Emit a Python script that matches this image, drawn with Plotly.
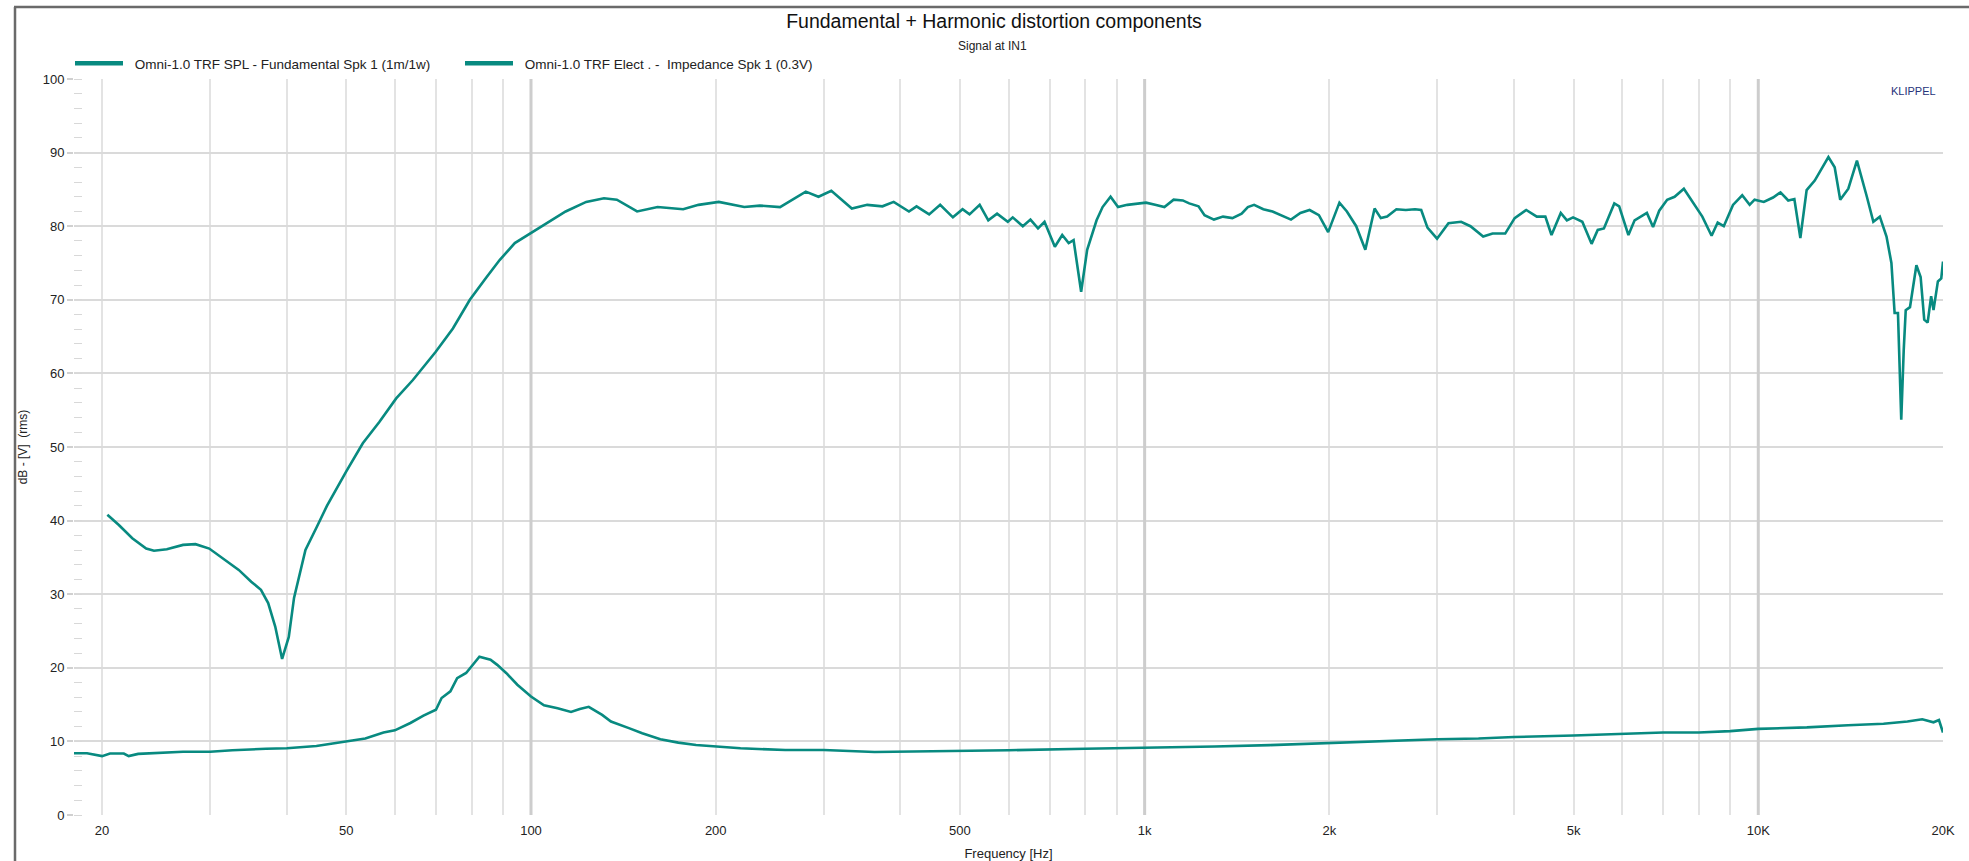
import math
import plotly.graph_objects as go

# ---------------- data ----------------
spl_freq = [20.4, 21.3, 22.4, 23.6, 24.3, 25.5, 27.1, 28.4, 29.9, 31.8, 33.4, 35.0, 36.3, 37.3, 38.3,
            39.3, 40.3, 41.1, 41.8, 42.9, 44.8, 46.5, 50.0, 53.2, 56.6, 60.3, 64.2, 69.9, 74.6, 79.5,
            84.5, 88.9, 94.1, 99.7, 105.5, 113.9, 123.0, 131.5, 138.0, 148.9, 160.8, 177.0, 187.5,
            202.3, 222.6, 236.0, 254.6, 280.4, 294.1, 308.6, 333.3, 353.1, 373.9, 390.0, 413.0, 424.9,
            445.5, 464.3, 487.0, 505.0, 518.4, 538.5, 556.2, 574.8, 598.5, 609.6, 633.1, 651.5, 670.3,
            686.8, 714, 734, 752, 766, 788, 806, 835, 854, 880, 905, 937, 970, 1005, 1040, 1077, 1115,
            1154, 1182, 1224, 1252, 1297, 1342, 1390, 1439, 1473, 1508, 1561, 1616, 1673, 1732, 1794,
            1857, 1923, 1991, 2077, 2136, 2212, 2289, 2370, 2426, 2484, 2572, 2664, 2758, 2823, 2890,
            2996, 3127, 3279, 3396, 3562, 3690, 3869, 4009, 4186, 4356, 4498, 4603, 4766, 4877, 4991,
            5167, 5350, 5475, 5603, 5826, 5934, 6143, 6287, 6434, 6584, 6738, 6896, 7104, 7305, 7564,
            7831, 8106, 8393, 8587, 8786, 9095, 9415, 9682, 9862, 10210, 10570, 10870, 11190, 11450,
            11710, 11990, 12360, 12710, 13010, 13320, 13600, 14020, 14480, 15030, 15400, 15780, 16180,
            16480, 16680, 16890, 17100, 17260, 17390, 17670, 18100, 18390, 18640, 18880, 19130, 19300,
            19620, 19870, 20000]
spl_db = [40.8, 39.4, 37.6, 36.2, 35.9, 36.1, 36.7, 36.8, 36.2, 34.6, 33.3, 31.7, 30.6, 28.8, 25.6,
          21.2, 24.2, 29.5, 32.0, 36.0, 39.2, 42.0, 46.7, 50.5, 53.4, 56.6, 59.1, 62.9, 66.1, 70.0,
          73.0, 75.4, 77.7, 79.0, 80.2, 82.0, 83.3, 83.8, 83.6, 82.0, 82.6, 82.3, 82.9,
          83.3, 82.6, 82.8, 82.6, 84.7, 84.0, 84.8, 82.4, 82.9, 82.7, 83.3, 82.0, 82.7,
          81.6, 82.9, 81.2, 82.3, 81.6, 82.9, 80.8, 81.7, 80.6, 81.2, 80.0, 80.9, 79.7,
          80.6, 77.2, 78.8, 77.7, 78.1, 71.1, 76.8, 80.8, 82.6, 84.0, 82.6, 82.9, 83.0, 83.2, 82.9, 82.6, 83.6,
          83.5, 83.1, 82.7, 81.5, 80.9, 81.3, 81.1, 81.7, 82.6, 82.9, 82.3, 82.0, 81.5, 80.9, 81.8,
          82.2, 81.5, 79.2, 83.2, 82.0, 80.0, 76.8, 82.4, 81.1, 81.3, 82.3, 82.2, 82.3, 82.2, 79.8,
          78.3, 80.4, 80.6, 80.0, 78.6, 79.0, 79.0, 81.1, 82.2, 81.3, 81.3, 78.8, 81.8, 80.8, 81.2,
          80.6, 77.6, 79.5, 79.7, 83.1, 82.7, 78.8, 80.8, 81.3, 81.8, 79.9, 82.1, 83.6, 84.0, 85.1,
          83.1, 81.3, 78.7, 80.5, 80.0, 82.9, 84.2, 82.9, 83.6, 83.3, 83.9, 84.6, 83.5, 83.7,
          78.4, 84.9, 86.2, 88.0, 89.4, 88.0, 83.6, 85.1, 88.9, 84.0, 80.6, 81.3, 78.6,
          75.0, 68.2, 68.2, 53.7, 63.2, 68.6, 69.0, 74.7, 73.1, 67.3, 66.9, 70.5, 68.6,
          72.5, 72.9, 75.2]

imp_freq = [18.0, 18.9, 20.0, 20.6, 21.7, 22.1, 22.9, 24.4, 27.1, 30.0, 32.6, 37.0, 40.0, 44.7, 50.0,
            53.7, 57.5, 60.0, 63.6, 66.8, 70.0, 71.5, 73.9, 75.8, 78.4, 80.0, 82.4, 85.9, 88.1, 91.1,
            95.0, 100, 105, 110.5, 116.2, 120.1, 124.2, 130.6, 135, 144.4, 151.8, 162.5, 173.8, 185.8,
            200, 219.5, 259.6, 300, 363, 400, 482, 600, 800, 1000, 1300, 1600, 2000, 2500, 3000, 3500,
            4000, 5000, 6000, 7000, 8000, 9000, 10000, 12000, 14000, 16000, 17500, 18500, 19300,
            19700, 20000]
imp_db = [8.4, 8.4, 8.0, 8.35, 8.35, 8.0, 8.3, 8.4, 8.6, 8.6, 8.8, 9.0, 9.06, 9.38, 9.96,
          10.4, 11.2, 11.5, 12.5, 13.5, 14.3, 15.9, 16.8, 18.6, 19.3, 20.2, 21.5, 21.1, 20.4, 19.3,
          17.7, 16.1, 14.9, 14.5, 14.0, 14.4, 14.7, 13.6, 12.7, 11.8, 11.1, 10.3, 9.83, 9.51,
          9.28, 9.06, 8.83, 8.83, 8.55, 8.6, 8.6, 8.8, 9.0, 9.1, 9.3, 9.5, 9.8, 10.1, 10.3, 10.4,
          10.6, 10.8, 11.0, 11.2, 11.2, 11.4, 11.7, 11.9, 12.2, 12.4, 12.7, 13.0, 12.6,
          12.9, 11.2]

series_names = ["Omni-1.0 TRF SPL - Fundamental Spk 1 (1m/1w)",
                "Omni-1.0 TRF Elect . -\u00a0 Impedance Spk 1 (0.3V)"]

x_label_vals = [20, 50, 100, 200, 500, 1000, 2000, 5000, 10000, 20000]
x_label_text = ["20", "50", "100", "200", "500", "1k", "2k", "5k", "10K", "20K"]
grid_freqs = [m * d for d in (10, 100, 1000, 10000) for m in range(1, 10)
              if 18 <= m * d <= 20000] + [20000]
decade_freqs = [100, 1000, 10000]
y_tick_vals = list(range(0, 101, 10))
x_min, x_max = 18, 20000

# ---------------- style ----------------
TEAL = "#088a80"
FONT = "Liberation Sans, Arial, sans-serif"
W, H = 1969, 861
ML, MR, MT, MB = 74, 26, 79, 46
ITEM_W = 48

fig = go.Figure()

# decade grid lines (thicker)
for d in decade_freqs:
    fig.add_trace(go.Scatter(x=[d, d], y=[0, 100], mode="lines",
                             line=dict(color="#cdcdcd", width=3),
                             hoverinfo="skip", showlegend=False))

fig.add_trace(go.Scatter(x=spl_freq, y=spl_db, mode="lines",
                         line=dict(color=TEAL, width=2.6), showlegend=False,
                         name=series_names[0]))
fig.add_trace(go.Scatter(x=imp_freq, y=imp_db, mode="lines",
                         line=dict(color=TEAL, width=2.6), showlegend=False,
                         name=series_names[1]))
# legend entries
for nm in series_names:
    fig.add_trace(go.Scatter(x=[None], y=[None], mode="lines",
                             line=dict(color=TEAL, width=4.5),
                             name="\u2002" + nm, showlegend=True))


def px_to_paper_x(px):
    return (px - ML) / (W - ML - MR)


def px_to_paper_y(py):
    return (H - MB - py) / (H - MT - MB)


fig.update_layout(
    width=W, height=H,
    margin=dict(l=ML, r=MR, t=MT, b=MB, pad=0, autoexpand=False),
    paper_bgcolor="white", plot_bgcolor="white",
    font=dict(family=FONT, size=13, color="#222"),
    title=dict(text="Fundamental + Harmonic distortion components",
               x=994 / W, xanchor="center", xref="container",
               y=1 - 21 / H, yanchor="middle", yref="container",
               font=dict(size=19.5, color="#111", family=FONT)),
    showlegend=True,
    legend=dict(orientation="h", x=px_to_paper_x(70), xanchor="left",
                y=1.0, yanchor="bottom", bgcolor="rgba(0,0,0,0)",
                font=dict(size=13.5, color="#222", family=FONT),
                entrywidth=390 - ITEM_W - 15, entrywidthmode="pixels", itemwidth=ITEM_W,
                tracegroupgap=0),
    xaxis=dict(type="log", range=[math.log10(x_min), math.log10(x_max)],
               automargin=False,
               tickmode="array", tickvals=grid_freqs,
               ticktext=[x_label_text[x_label_vals.index(g)] if g in x_label_vals else ""
                         for g in grid_freqs],
               showgrid=True, gridcolor="#e3e3e3", gridwidth=1.5,
               ticks="", ticklabelstandoff=6, zeroline=False, showline=False,
               tickfont=dict(size=13, color="#222"),
               title=dict(text="Frequency [Hz]", standoff=15,
                          font=dict(size=13, color="#222"))),
    yaxis=dict(range=[0, 100], tickmode="array", tickvals=y_tick_vals,
               automargin=False,
               showgrid=True, gridcolor="#dadada", gridwidth=1.6,
               ticks="outside", ticklen=6, tickcolor="#d0d0d0", tickwidth=1.5,
               minor=dict(dtick=2, ticks="inside", ticklen=8, tickcolor="#d8d8d8",
                          tickwidth=1.2, showgrid=False),
               zeroline=False, showline=False,
               tickfont=dict(size=13, color="#222"),
               title=dict(text="dB - [V]\u00a0 (rms)", standoff=12,
                          font=dict(size=12, color="#222"))),
    annotations=[
        dict(text="Signal at IN1", xref="paper", yref="paper",
             x=px_to_paper_x(992), y=px_to_paper_y(46),
             xanchor="center", yanchor="middle", showarrow=False,
             font=dict(size=12, color="#222", family=FONT)),
        dict(text="KLIPPEL", xref="paper", yref="paper", x=1, y=1,
             xanchor="right", yanchor="top", xshift=-5, yshift=-4,
             showarrow=False, font=dict(size=11, color="#27337a", family=FONT)),
    ],
    shapes=[
        dict(type="line", xref="paper", yref="paper",
             x0=px_to_paper_x(15), x1=px_to_paper_x(15),
             y0=px_to_paper_y(7), y1=px_to_paper_y(H + 10),
             line=dict(color="#6a6a6a", width=2.5)),
        dict(type="line", xref="paper", yref="paper",
             x0=px_to_paper_x(14), x1=px_to_paper_x(W + 10),
             y0=px_to_paper_y(7), y1=px_to_paper_y(7),
             line=dict(color="#6a6a6a", width=2.5)),
    ],
)

fig.write_html("out.html", include_plotlyjs=True,
               config={"displayModeBar": False, "responsive": False},
               post_script="document.body.style.margin='0';document.body.style.overflow='hidden';")
